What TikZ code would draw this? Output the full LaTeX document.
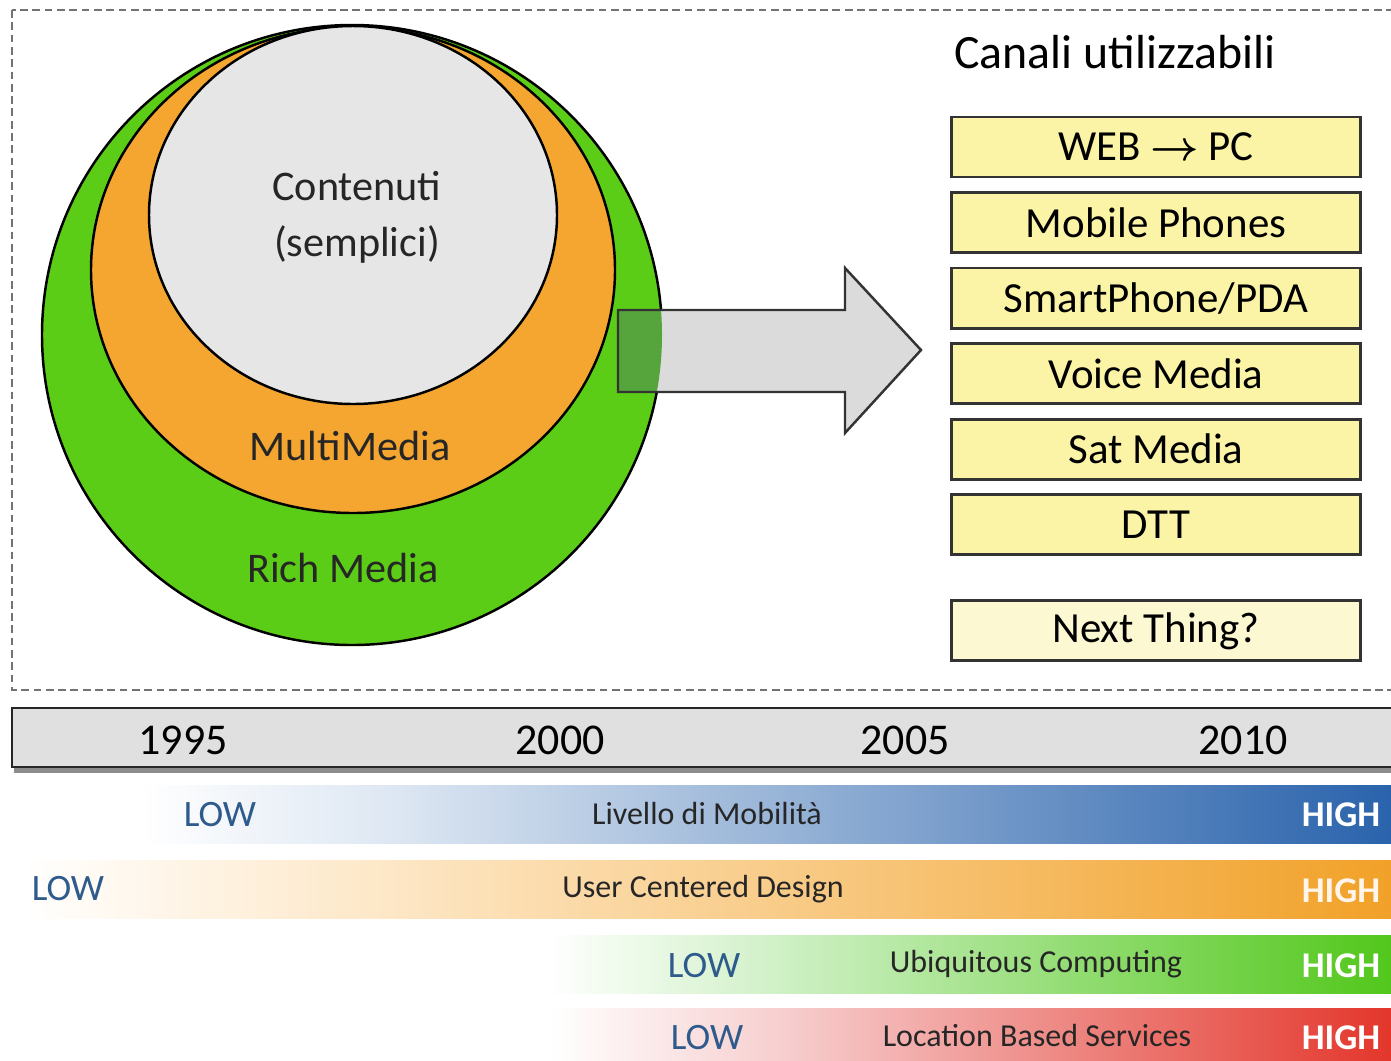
\documentclass[tikz,border=0pt]{standalone}
\usepackage{amsmath}
\usepackage{fontspec}
\setmainfont{Carlito}
\usetikzlibrary{positioning}

\definecolor{richgreen}{HTML}{5CCD16}
\definecolor{multiorange}{HTML}{F4A630}
\definecolor{contgray}{HTML}{E6E6E6}
\definecolor{overgreen}{HTML}{56A43C}
\definecolor{canaleyellow}{HTML}{FBF4A6}
\definecolor{nextyellow}{HTML}{FCF8D2}
\definecolor{yeargray}{HTML}{E0E0E0}
\definecolor{lowblue}{HTML}{2E5A8C}
\definecolor{mobmid}{HTML}{DCE6F2}
\definecolor{mobhigh}{HTML}{2A63AC}
\definecolor{ucdmid}{HTML}{FDE6C4}
\definecolor{ucdhigh}{HTML}{F1A128}
\definecolor{ubimid}{HTML}{CBEFC0}
\definecolor{ubihigh}{HTML}{52C71B}
\definecolor{lbsmid}{HTML}{F6CACA}
\definecolor{lbshigh}{HTML}{E3362B}

\begin{document}
\begin{tikzpicture}[x=0.01cm, y=-0.01cm,
    font=\fontsize{12}{16}\selectfont,
    canale/.style={draw=black!80, line width=0.8pt, fill=canaleyellow, outer sep=0pt,
        minimum width=4.09cm, minimum height=0.6cm, inner sep=0pt,
        font=\fontsize{12.2}{14}\selectfont},
    yearlabel/.style={font=\fontsize{12.5}{14}\selectfont},
    lowlabel/.style={text=lowblue, font=\fontsize{10.6}{12}\selectfont},
    highlabel/.style={text=white, font=\fontsize{10.3}{12}\selectfont\bfseries},
    barlabel/.style={text=black!85, font=\fontsize{9.1}{11}\selectfont}]

    \useasboundingbox (0,0) rectangle (1391,1060);

    % Dashed frame round the upper part
    \draw[black!55, line width=0.6pt, dash pattern=on 2.2pt off 1.3pt] (12,10) rectangle (1420,690);

    % Media circles
    \draw[fill=richgreen, line width=0.7pt] (352,335) circle (310);
    \draw[fill=multiorange, line width=0.7pt] (353,270) ellipse (262 and 243);
    \draw[fill=contgray, line width=0.7pt] (353,215) ellipse (204 and 189);

    \node[align=center, text=black!85] (contenuti) at (357,217) {Contenuti\\(semplici)};
    \node[text=black!85] (multimedia) at (350,446) {MultiMedia};
    \node[text=black!85] (richmedia) at (343,568) {Rich Media};

    % Big arrow towards the channels
    \fill[contgray!95!black] (618,310) -- (845,310) -- (845,268) -- (921,350)
        -- (845,433) -- (845,392) -- (618,392) -- cycle;
    \begin{scope}
        \clip (352,335) circle (310);
        \fill[overgreen] (618,310) rectangle (700,392);
    \end{scope}
    \draw[black!80, line width=0.7pt] (618,310) -- (845,310) -- (845,268) -- (921,350)
        -- (845,433) -- (845,392) -- (618,392) -- cycle;

    % Channels
    \node[anchor=west, font=\fontsize{13.6}{16}\selectfont] (canali) at (942,52) {Canali utilizzabili};

    \node[canale] (web) at (1156,147) {WEB $\boldsymbol{\rightarrow}$ PC};
    \node[canale, below=0.155cm of web] (mobile) {Mobile Phones};
    \node[canale, below=0.155cm of mobile] (smart) {SmartPhone/PDA};
    \node[canale, below=0.155cm of smart] (voice) {Voice Media};
    \node[canale, below=0.155cm of voice] (sat) {Sat Media};
    \node[canale, below=0.155cm of sat] (dtt) {DTT};
    \node[canale, fill=nextyellow, below=0.46cm of dtt] (next) {Next Thing?};

    % Time line
    \draw[black!45, line width=1.5pt] (14,770) -- (1400,770);
    \draw[fill=yeargray, draw=black!85, line width=0.8pt] (12,708) rectangle (1420,767);
    \node[yearlabel] (y1995) at (183,740) {1995};
    \node[yearlabel] (y2000) at (560,740) {2000};
    \node[yearlabel] (y2005) at (905,740) {2005};
    \node[yearlabel] (y2010) at (1243,740) {2010};

    % Livello di Mobilita
    \shade[left color=white, right color=mobmid] (140,785) rectangle (402,843);
    \shade[left color=mobmid, right color=mobhigh] (400,785) rectangle (1391,843);
    \node[lowlabel] (moblow) at (220,815) {LOW};
    \node[barlabel] (mob) at (707,813) {Livello di Mobilità};
    \node[highlabel] (mobhi) at (1341,815) {HIGH};

    % User Centered Design
    \shade[left color=white, right color=ucdmid] (20,860) rectangle (402,918);
    \shade[left color=ucdmid, right color=ucdhigh] (400,860) rectangle (1391,918);
    \node[lowlabel] (ucdlow) at (68,889) {LOW};
    \node[barlabel] (ucd) at (703,889) {User Centered Design};
    \node[highlabel, text=white!92!orange] (ucdhi) at (1341,891) {HIGH};

    % Ubiquitous Computing
    \shade[left color=white, right color=ubimid] (545,935) rectangle (802,993);
    \shade[left color=ubimid, right color=ubihigh] (800,935) rectangle (1391,993);
    \node[lowlabel] (ubilow) at (704,966) {LOW};
    \node[barlabel] (ubi) at (1036,964) {Ubiquitous Computing};
    \node[highlabel] (ubihi) at (1341,966) {HIGH};

    % Location Based Services
    \shade[left color=white, right color=lbsmid] (550,1008) rectangle (802,1066);
    \shade[left color=lbsmid, right color=lbshigh] (800,1008) rectangle (1391,1066);
    \node[lowlabel] (lbslow) at (707,1038) {LOW};
    \node[barlabel] (lbs) at (1037,1035) {Location Based Services};
    \node[highlabel] (lbshi) at (1341,1038) {HIGH};
\end{tikzpicture}
\end{document}
